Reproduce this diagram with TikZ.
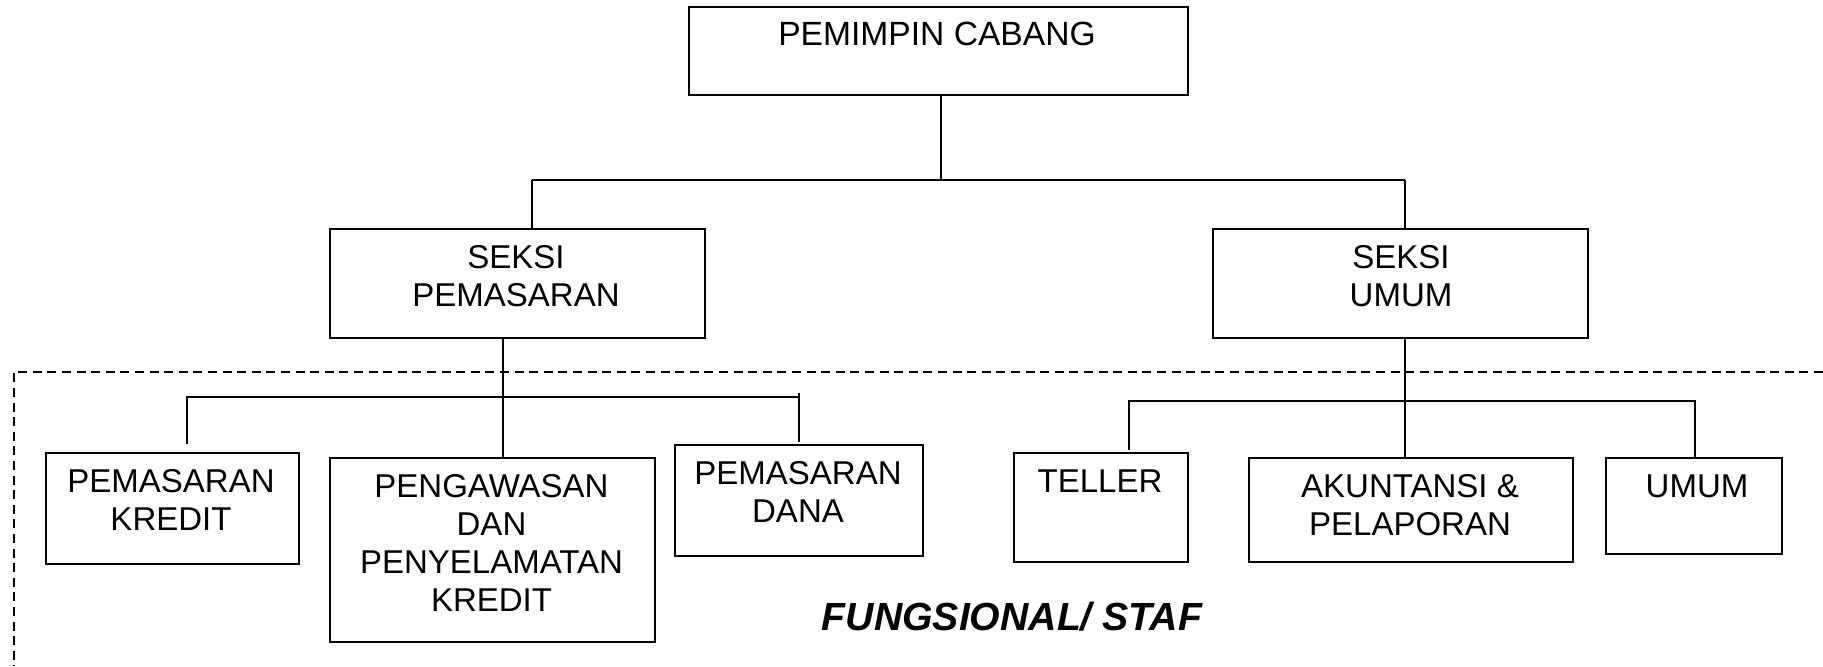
\documentclass[tikz,border=0pt]{standalone}
\usepackage{fontspec}
\setmainfont{Liberation Sans}
\begin{document}
\begin{tikzpicture}[x=0.5pt,y=-0.5pt,
  box/.style={draw, line width=1pt, inner sep=0pt, anchor=north west},
  txt/.style={inner sep=0pt, align=center, font=\fontsize{16.5}{19}\selectfont},
  conn/.style={line width=1pt},
  frame/.style={line width=0.8pt, dash pattern=on 4.5pt off 2.8pt}]
\useasboundingbox (0,0) rectangle (1823,666);

% boxes
\node[box, minimum width=249.5pt, minimum height=44pt]   (pc) at (688,6) {};
\node[box, minimum width=187.5pt, minimum height=54.5pt] (sp) at (329,228) {};
\node[box, minimum width=187.5pt, minimum height=54.5pt] (su) at (1212,228) {};
\node[box, minimum width=126.5pt, minimum height=55.5pt] (pk) at (45,452) {};
\node[box, minimum width=162.5pt, minimum height=92pt]   (pp) at (329,457) {};
\node[box, minimum width=124pt,   minimum height=55.5pt] (pd) at (674,444) {};
\node[box, minimum width=87pt,    minimum height=54.5pt] (te) at (1013,452) {};
\node[box, minimum width=162pt,   minimum height=52pt]   (ak) at (1248,457) {};
\node[box, minimum width=88pt,    minimum height=48pt]   (um) at (1605,457) {};

% texts
\node[txt, font=\fontsize{16.8}{19}\selectfont] (tpc) at (937,34) {PEMIMPIN CABANG};
\node[txt] (tsp) at (516,276) {SEKSI\\PEMASARAN};
\node[txt] (tsu) at (1401,276) {SEKSI\\UMUM};
\node[txt] (tpk) at (171,500) {PEMASARAN\\KREDIT};
\node[txt] (tpp) at (491.5,543) {PENGAWASAN\\DAN\\PENYELAMATAN\\KREDIT};
\node[txt] (tpd) at (798,492) {PEMASARAN\\DANA};
\node[txt] (tte) at (1100,481) {TELLER};
\node[txt] (tak) at (1410,505) {AKUNTANSI \&\\PELAPORAN};
\node[txt] (tum) at (1697,486) {UMUM};
\node[inner sep=0pt, font=\fontsize{19.6}{22}\selectfont\bfseries\itshape] (fs) at (1012,617) {FUNGSIONAL/ STAF};

% junction coordinates
\coordinate (j0) at (941,180);
\coordinate (jl) at (532,180);
\coordinate (jr) at (1405,180);
\coordinate (a1) at (503,397);
\coordinate (l1) at (187,397);
\coordinate (l1e) at (187,444);
\coordinate (l3) at (799,397);
\coordinate (l3s) at (799,393);
\coordinate (l3e) at (799,442);
\coordinate (b1) at (1405,401);
\coordinate (r1) at (1129,401);
\coordinate (r1e) at (1129,450);
\coordinate (r3) at (1695,401);

% connectors
\draw[conn] (pc.south -| j0) -- (j0);
\draw[conn] (jl) -- (jr);
\draw[conn] (jl) -- (sp.north -| jl);
\draw[conn] (jr) -- (su.north -| jr);
\draw[conn] (sp.south -| a1) -- (pp.north -| a1);
\draw[conn] (l1e) -- (l1) -- (l3);
\draw[conn] (l3s) -- (l3e);
\draw[conn] (su.south -| b1) -- (ak.north -| b1);
\draw[conn] (r1e) -- (r1) -- (r3) -- (um.north -| r3);

% dashed frame
\coordinate (fr) at (1823,372);
\coordinate (fc) at (14,372);
\coordinate (fb) at (14,666);
\draw[frame] (fr) -- (fc) -- (fb);
\end{tikzpicture}
\end{document}
